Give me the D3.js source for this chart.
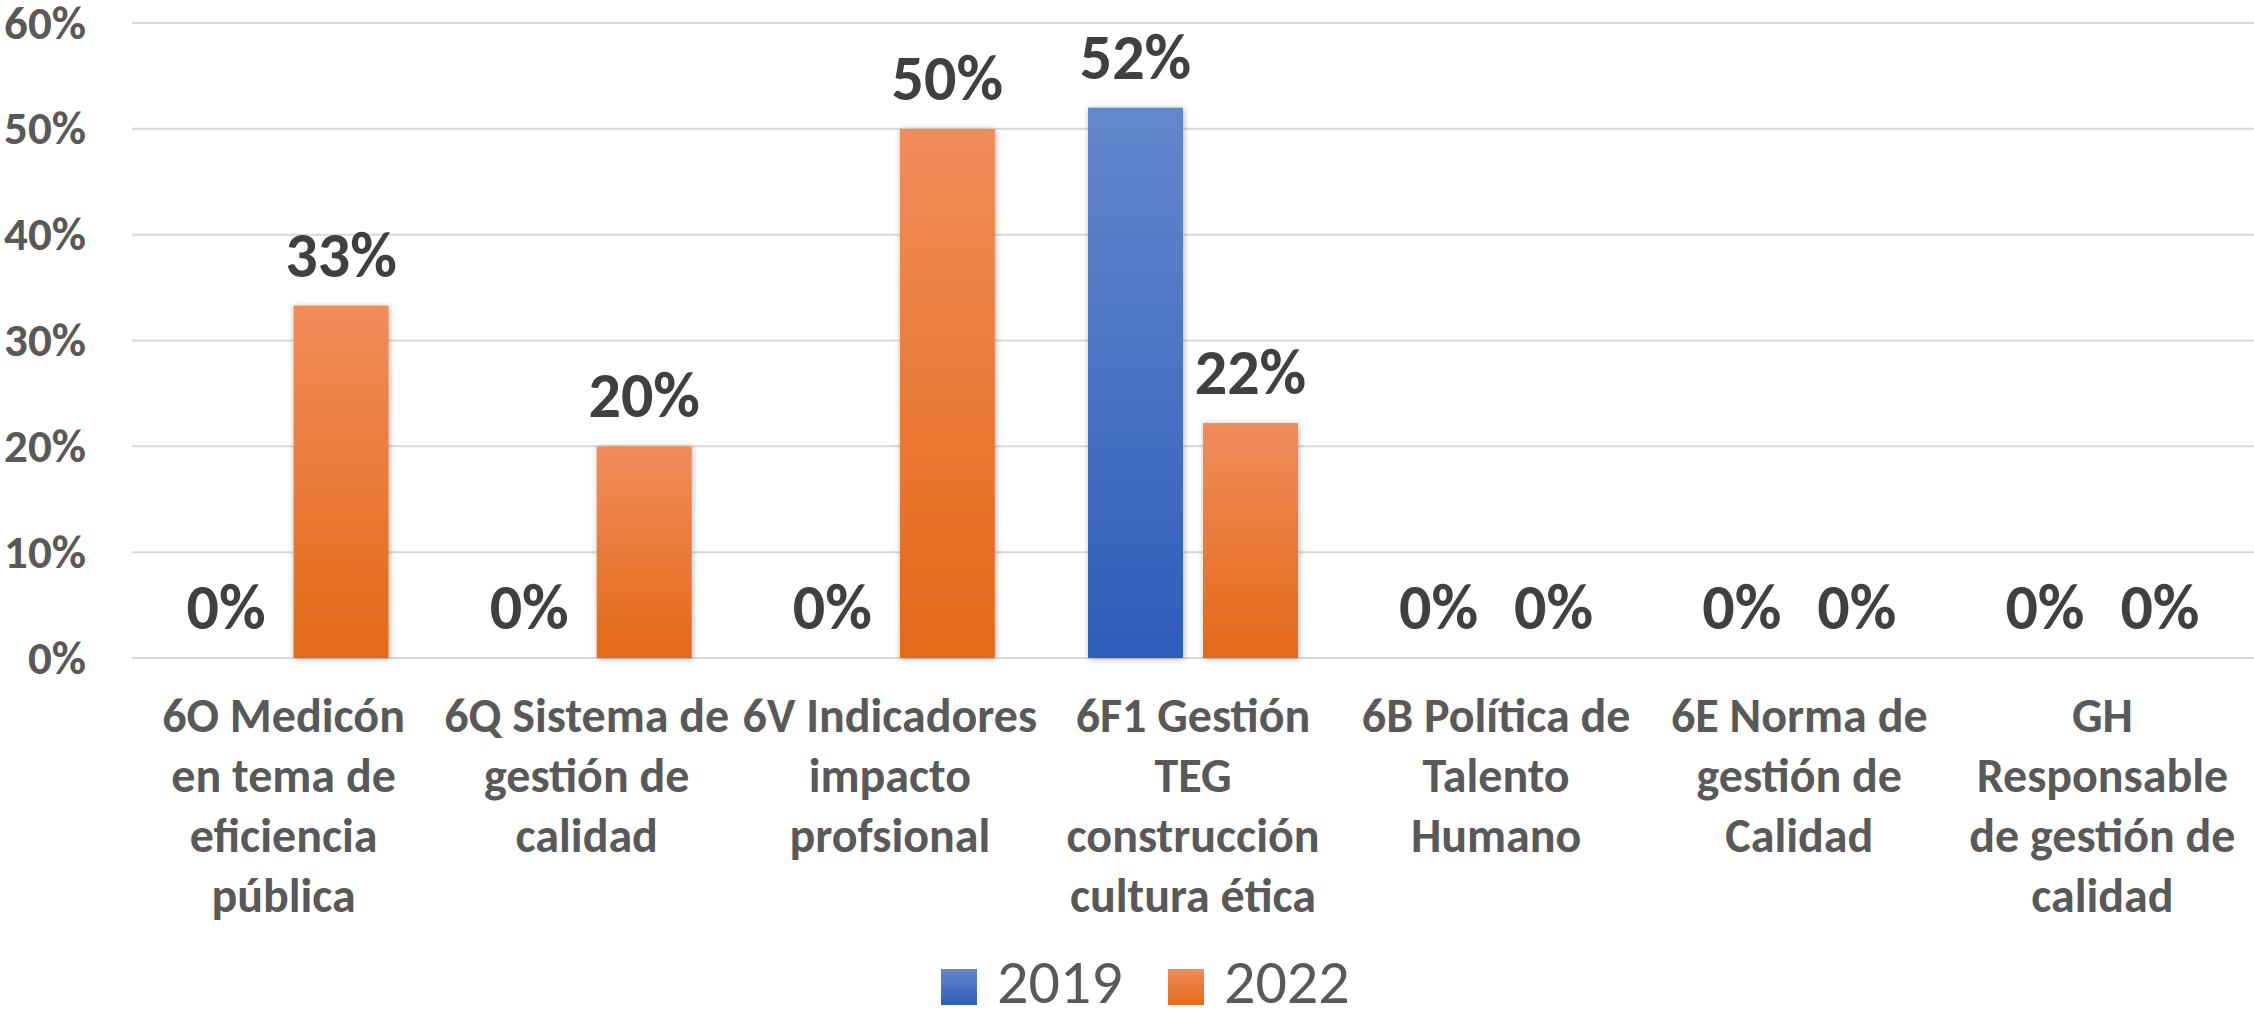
<!DOCTYPE html>
<html>
<head>
<meta charset="utf-8">
<script src="https://cdn.jsdelivr.net/npm/d3@7"></script>
<style>
  body { margin: 0; background: #fff; }
  svg { display: block; }
</style>
</head>
<body>
<script>
// categories (line breaks as in the original axis)
var categories = [
  '6O Medicón\nen tema de\neficiencia\npública',
  '6Q Sistema de\ngestión de\ncalidad',
  '6V Indicadores\nimpacto\nprofsional',
  '6F1 Gestión\nTEG\nconstrucción\ncultura ética',
  '6B Política de\nTalento\nHumano',
  '6E Norma de\ngestión de\nCalidad',
  'GH\nResponsable\nde gestión de\ncalidad'
];
var seriesNames = ['2019', '2022'];
var values2019 = [0, 0, 0, 0.52, 0, 0, 0];
var values2022 = [0.333, 0.20, 0.50, 0.222, 0, 0, 0];
var yTicks = [0, 0.1, 0.2, 0.3, 0.4, 0.5, 0.6];

var width = 2254,
  height = 1010,
  margin = { top: 23, right: 0, bottom: 352, left: 132 };

var font = "Carlito, Calibri, 'Liberation Sans Narrow', 'Open Sans', sans-serif";

var svg = d3.select('body').append('svg')
  .attr('width', width)
  .attr('height', height);

var defs = svg.append('defs');

function addGradient(id, top, bottom) {
  var g = defs.append('linearGradient')
    .attr('id', id)
    .attr('x1', 0).attr('y1', 0).attr('x2', 0).attr('y2', 1);
  g.append('stop').attr('offset', '0%').attr('stop-color', top);
  g.append('stop').attr('offset', '100%').attr('stop-color', bottom);
}
addGradient('grad2019', '#6487cc', '#2d5eb9');
addGradient('grad2022', '#f08c5a', '#e46a19');

var shadow = defs.append('filter')
  .attr('id', 'shadow')
  .attr('x', '-20%').attr('y', '-5%').attr('width', '140%').attr('height', '110%');
shadow.append('feDropShadow')
  .attr('dx', 1).attr('dy', 1)
  .attr('stdDeviation', 3)
  .attr('flood-color', '#000')
  .attr('flood-opacity', 0.3);

var x0 = d3.scaleBand()
  .domain(categories)
  .range([margin.left, width - margin.right])
  .paddingInner(0)
  .paddingOuter(0);

// two bars of ~95px with a 20px gap inside each ~303px band
var barW = 95, barGap = 20;
var groupW = barW * 2 + barGap;

var y = d3.scaleLinear()
  .domain([0, 0.6])
  .range([height - margin.bottom, margin.top]);

// gridlines
svg.append('g')
  .selectAll('line')
  .data(yTicks)
  .enter()
  .append('line')
  .attr('x1', margin.left)
  .attr('x2', width - margin.right)
  .attr('y1', function(d) { return y(d); })
  .attr('y2', function(d) { return y(d); })
  .style('stroke', '#d9d9d9')
  .style('stroke-width', 2);

// y axis
var yAxis = d3.axisLeft(y)
  .tickValues(yTicks)
  .tickFormat(d3.format('.0%'))
  .tickSize(0)
  .tickPadding(0);

var yG = svg.append('g')
  .attr('transform', 'translate(86,0)')
  .call(yAxis);
yG.select('.domain').remove();
yG.selectAll('text')
  .style('font-family', font)
  .style('font-weight', 'bold')
  .style('font-size', '47px')
  .style('fill', '#595959')
  .attr('dy', '0.32em');

var series = [
  { name: seriesNames[0], values: values2019, fill: 'url(#grad2019)', offset: 0 },
  { name: seriesNames[1], values: values2022, fill: 'url(#grad2022)', offset: barW + barGap }
];

function barX(i, s) {
  return x0(categories[i]) + (x0.bandwidth() - groupW) / 2 + s.offset;
}

series.forEach(function(s) {
  var g = svg.append('g').attr('class', 'series');

  g.selectAll('rect')
    .data(s.values)
    .enter()
    .append('rect')
    .filter(function(d) { return d > 0; })
    .attr('x', function(d) { return barX(s.values.indexOf(d), s); })
    .attr('y', function(d) { return y(d); })
    .attr('width', barW)
    .attr('height', function(d) { return y(0) - y(d); })
    .style('fill', s.fill)
    .attr('filter', 'url(#shadow)');

  g.selectAll('text')
    .data(s.values)
    .enter()
    .append('text')
    .attr('x', function(d, i) { return barX(i, s) + barW / 2; })
    .attr('y', function(d) { return y(d) - 29; })
    .attr('text-anchor', 'middle')
    .style('font-family', font)
    .style('font-weight', 'bold')
    .style('font-size', '64px')
    .style('fill', '#404040')
    .text(function(d) { return d3.format('.0%')(d); });
});

// category labels
var xLabels = svg.append('g');
categories.forEach(function(c) {
  var t = xLabels.append('text')
    .attr('x', x0(c) + x0.bandwidth() / 2)
    .attr('y', 732)
    .attr('text-anchor', 'middle')
    .style('font-family', font)
    .style('font-weight', 'bold')
    .style('font-size', '48px')
    .style('fill', '#595959');
  c.split('\n').forEach(function(line, k) {
    t.append('tspan')
      .attr('x', x0(c) + x0.bandwidth() / 2)
      .attr('dy', k === 0 ? 0 : 60)
      .text(line);
  });
});

// legend
var legend = svg.append('g').attr('class', 'legend');
var legendX = [941, 1168];
series.forEach(function(s, i) {
  legend.append('rect')
    .attr('x', legendX[i])
    .attr('y', 969)
    .attr('width', 36)
    .attr('height', 36)
    .style('fill', s.fill);
  legend.append('text')
    .attr('x', legendX[i] + 56)
    .attr('y', 1003)
    .style('font-family', font)
    .style('font-size', '62px')
    .style('fill', '#595959')
    .text(s.name);
});
</script>
</body>
</html>
